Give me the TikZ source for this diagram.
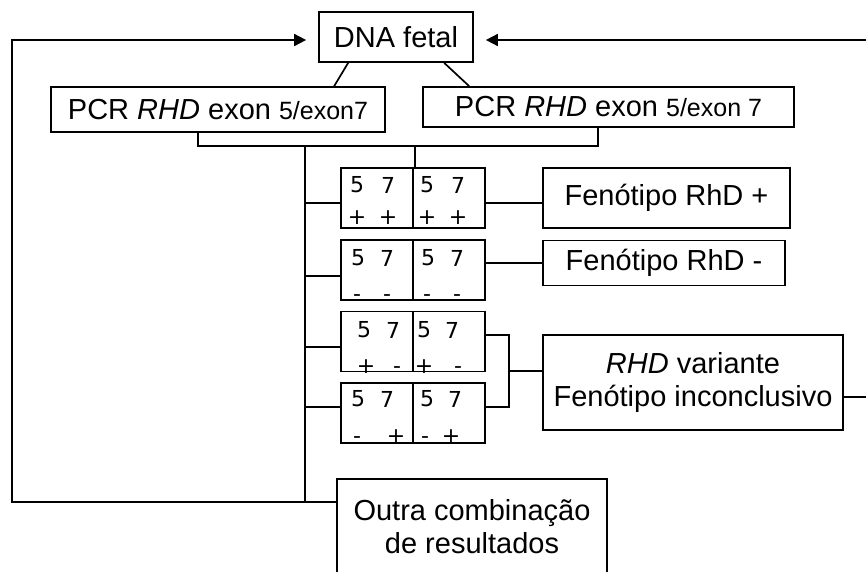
\documentclass[tikz,border=0pt]{standalone}
\usepackage{fontspec}
\setmainfont{Liberation Sans}
\newfontfamily\dvfont{DejaVu Sans}
\usetikzlibrary{arrows.meta}
\begin{document}
\begin{tikzpicture}[x=1pt,y=-1pt,line width=1.7pt,
  box/.style={draw,rectangle,inner sep=0pt,font=\fontsize{29}{33}\selectfont,align=center},
  cell/.style={draw,rectangle,inner sep=0pt,minimum width=72pt,minimum height=60pt},
  dig/.style={inner sep=0pt,font=\dvfont\fontsize{22}{22}\selectfont},
  arr/.style={-{Triangle[length=12pt,width=12pt]},shorten >=12pt}]
\useasboundingbox (0,0) rectangle (866,571);
\clip (0,0) rectangle (866,571);
% main nodes
\node[box,minimum width=154pt,minimum height=50pt] (dna) at (396,37) {DNA fetal};
\node[box,minimum width=334pt,minimum height=45pt] (pcr1) at (218,109.5)
  {PCR \textit{RHD} exon {\fontsize{25}{25}\selectfont 5/exon7}};
\node[box,minimum width=371pt,minimum height=40pt] (pcr2) at (608.5,107)
  {PCR \textit{RHD} exon {\fontsize{25}{25}\selectfont 5/exon 7}};
\node[box,minimum width=247pt,minimum height=60pt] (fp) at (666.5,198) {Fenótipo RhD +};
\node[box,minimum width=242pt,minimum height=45pt] (fm) at (664,263) {Fenótipo RhD -};
\node[box,minimum width=300pt,minimum height=95pt] (inc) at (693,382.5)
  {\textit{RHD} variante\\Fenótipo inconclusivo};
\node[box,minimum width=270pt,minimum height=95pt] (outra) at (472,526.5)
  {Outra combinação\\de resultados};
% result cells
\node[cell] (r1a) at (377,198) {};
\node[cell] (r1b) at (449,198) {};
\node[cell] (r2a) at (377,270) {};
\node[cell] (r2b) at (449,270) {};
\node[cell] (r3a) at (377,341.5) {};
\node[cell] (r3b) at (449,341.5) {};
\node[cell] (r4a) at (377,413) {};
\node[cell] (r4b) at (449,413) {};
% digits and signs
\node[dig] (d1a) at (357,185) {5}; \node[dig] (d1b) at (388,185) {7};
\node[dig] (d1c) at (427,185) {5}; \node[dig] (d1d) at (458,185) {7};
\node[dig] (s1a) at (357,218) {+}; \node[dig] (s1b) at (388,218) {+};
\node[dig] (s1c) at (427,218) {+}; \node[dig] (s1d) at (458,218) {+};
\node[dig] (d2a) at (358,258) {5}; \node[dig] (d2b) at (387,258) {7};
\node[dig] (d2c) at (428,258) {5}; \node[dig] (d2d) at (457,258) {7};
\node[dig] (s2a) at (357,295) {\vphantom{+}-}; \node[dig] (s2b) at (387,295) {\vphantom{+}-};
\node[dig] (s2c) at (427,295) {\vphantom{+}-}; \node[dig] (s2d) at (457,295) {\vphantom{+}-};
\node[dig] (d3a) at (364,330) {5}; \node[dig] (d3b) at (393,330) {7};
\node[dig] (d3c) at (424,330) {5}; \node[dig] (d3d) at (452,330) {7};
\node[dig] (s3a) at (366,367) {+}; \node[dig] (s3b) at (397,367) {\vphantom{+}-};
\node[dig] (s3c) at (424,367) {+}; \node[dig] (s3d) at (458,367) {\vphantom{+}-};
\node[dig] (d4a) at (358,399) {5}; \node[dig] (d4b) at (387,399) {7};
\node[dig] (d4c) at (427,399) {5}; \node[dig] (d4d) at (455,399) {7};
\node[dig] (s4a) at (357,437) {\vphantom{+}-}; \node[dig] (s4b) at (396,437) {+};
\node[dig] (s4c) at (425,437) {\vphantom{+}-}; \node[dig] (s4d) at (451,437) {+};
% junction coordinates
\coordinate (hL) at (198,146);
\coordinate (hR) at (598,146);
\coordinate (hV) at (305,146);
\coordinate (hM) at (415,146);
\coordinate (bot) at (305,502);
\coordinate (lc) at (12,502);
\coordinate (lt) at (12,40);
\coordinate (rt) at (866,40);
\coordinate (rr) at (866,397);
\coordinate (bm) at (508,371);
% connectors
\draw ([xshift=30pt]dna.south west) -- ([xshift=284pt]pcr1.north west);
\draw ([xshift=126pt]dna.south west) -- ([xshift=47pt]pcr2.north west);
\draw (pcr1.south -| hL) -- (hL) -- (hR) -- (pcr2.south -| hR);
\draw (hM) -- (hM |- r1a.north);
\draw (hV) -- (bot);
\draw[arr] (bot -| outra.west) -- (lc) -- (lt) -- (lt -| dna.west);
\draw[arr] (rt) -- (rt -| dna.east);
\draw ([yshift=-5pt]r1a.west) -- ++(-36,0);
\draw ([yshift=-6pt]r2a.west) -- ++(-36,0);
\draw ([yshift=-5.5pt]r3a.west) -- ++(-36,0);
\draw ([yshift=6pt]r4a.west) -- ++(-36,0);
\draw ([yshift=-5pt]r1b.east) -- ([yshift=-5pt]fp.west);
\draw ([yshift=7pt]r2b.east) -- (fm.west);
\draw ([yshift=6.5pt]r3b.east) -- ++(23,0) |- ([yshift=6pt]r4b.east);
\draw (bm) -- (bm -| inc.west);
\draw (inc.east |- rr) -- (rr);
\end{tikzpicture}
\end{document}
